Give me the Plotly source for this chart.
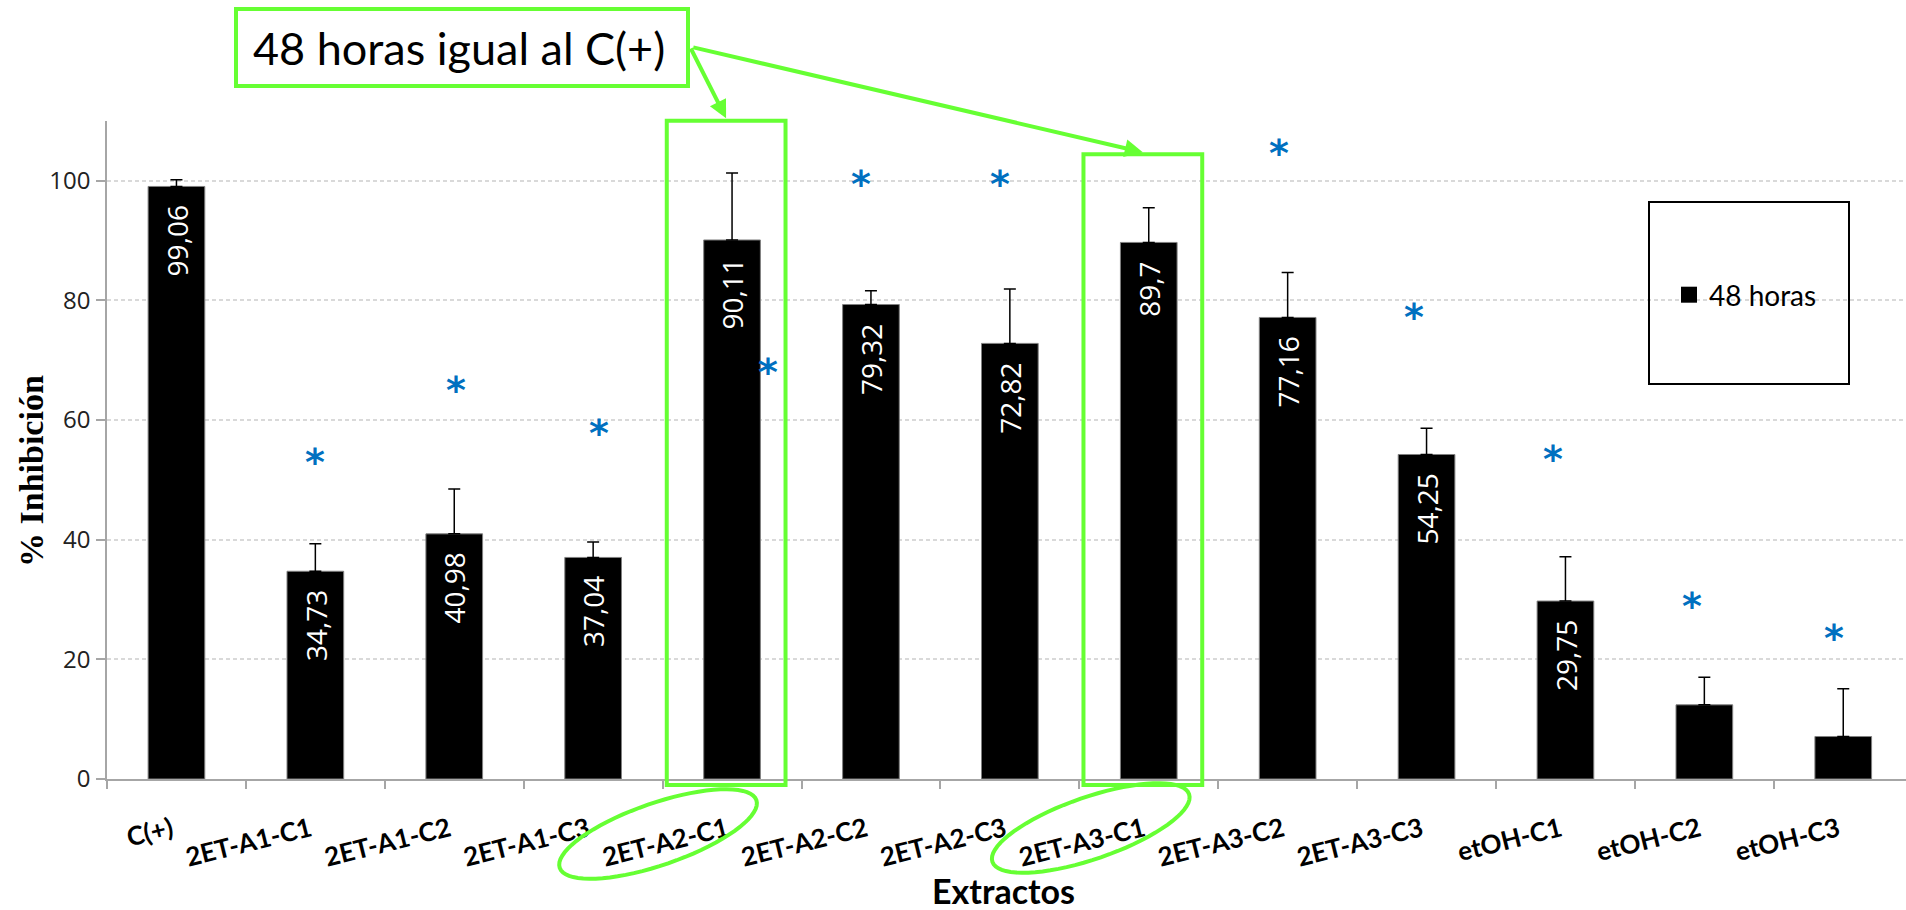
import math
import plotly.graph_objects as go

# ---------------- data ----------------
categories = ["C(+)", "2ET-A1-C1", "2ET-A1-C2", "2ET-A1-C3", "2ET-A2-C1", "2ET-A2-C2",
              "2ET-A2-C3", "2ET-A3-C1", "2ET-A3-C2", "2ET-A3-C3", "etOH-C1", "etOH-C2", "etOH-C3"]
inhibition = [99.06, 34.73, 40.98, 37.04, 90.11, 79.32, 72.82, 89.7, 77.16, 54.25, 29.75, 12.4, 7.1]
error_plus = [1.1, 4.6, 7.5, 2.6, 11.2, 2.3, 9.1, 5.8, 7.5, 4.4, 7.4, 4.6, 8.0]
value_labels = ["99,06", "34,73", "40,98", "37,04", "90,11", "79,32", "72,82", "89,7",
                "77,16", "54,25", "29,75", "", ""]
# significance asterisks (height in % units)
star_heights = [None, 53.8, 65.8, 58.7, 68.9, 100.3, 100.3, None, 105.5, 78.0, 54.3, 29.7, 24.4]
highlighted = ["2ET-A2-C1", "2ET-A3-C1"]
callout_text = "48 horas igual al C(+)"
series_name = "48 horas"
y_ticks = [0, 20, 40, 60, 80, 100]

# ---------------- styling / layout ----------------
GREEN = "#66FF33"
BLUE = "#0070C0"
AXIS = "#A6A6A6"

W, H = 1906, 910
L, R, T, B = 107, 0, 121, 131
PW, PH = W - L - R, H - T - B
CATW = 138.9
XMAX = -0.5 + PW / CATW

star_dx = [0, 0.0, 0.01, 0.04, 0.26, -0.07, -0.07, 0, -0.06, -0.09, -0.09, -0.09, -0.07]


def px_x(px):
    return (px - L) / PW


def px_y(py):
    return (H - B - py) / PH


def cat_px(idx):
    return L + (idx + 0.5) * CATW


fig = go.Figure()
fig.add_trace(go.Bar(
    x=categories, y=inhibition, width=0.408,
    marker=dict(color="black", line=dict(color="#808080", width=1)),
    error_y=dict(type="data", symmetric=False, array=error_plus,
                 arrayminus=[0] * len(error_plus), color="black", thickness=1.5, width=6),
    showlegend=False, hoverinfo="skip",
))
fig.add_trace(go.Scatter(
    x=[None], y=[None], mode="markers", name=series_name,
    marker=dict(symbol="square", size=19, color="black"), showlegend=True,
))

annotations = []
# value labels inside bars
for i, (v, lab) in enumerate(zip(inhibition, value_labels)):
    if lab:
        annotations.append(dict(x=i, y=v, xref="x", yref="y", text=lab, showarrow=False,
                                textangle=-90, yanchor="top", xanchor="center", yshift=-17,
                                font=dict(family="Open Sans", size=28, color="white")))
# asterisks
for i, (s, o) in enumerate(zip(star_heights, star_dx)):
    if s is not None:
        annotations.append(dict(x=i + o, y=s, xref="x", yref="y", text="*", showarrow=False,
                                xanchor="center", yanchor="middle", yshift=-5,
                                font=dict(family="DejaVu Sans", size=38, color=BLUE, weight="bold")))

shapes = []
box_tops = [120.7, 154.3]
for name, top in zip(highlighted, box_tops):
    idx = categories.index(name)
    shapes.append(dict(type="rect", xref="x", yref="paper", x0=idx - 0.47, x1=idx + 0.385,
                       y0=px_y(785), y1=px_y(top), line=dict(color=GREEN, width=4)))

# tilted ellipses around the highlighted tick labels
ell_dx = [-74, -58]
ell_cy = [834, 828]
a_ax, b_ax, rot = 104.0, 31.0, math.radians(19)
for name, dx, cy in zip(highlighted, ell_dx, ell_cy):
    idx = categories.index(name)
    cx = cat_px(idx) + dx
    pts = []
    for k in range(73):
        t = 2 * math.pi * k / 72
        ex = a_ax * math.cos(t)
        ey = b_ax * math.sin(t)
        X = cx + ex * math.cos(rot) + ey * math.sin(rot)
        Y = cy - ex * math.sin(rot) + ey * math.cos(rot)
        pts.append((px_x(X), px_y(Y)))
    path = "M " + " L ".join(f"{x:.5f},{y:.5f}" for x, y in pts) + " Z"
    shapes.append(dict(type="path", xref="paper", yref="paper", path=path,
                       line=dict(color=GREEN, width=4)))

# callout box + text
shapes.append(dict(type="rect", xref="paper", yref="paper", x0=px_x(236), x1=px_x(688),
                   y0=px_y(86), y1=px_y(9), line=dict(color=GREEN, width=4),
                   fillcolor="white"))
annotations.append(dict(x=px_x(459), y=px_y(47.5), xref="paper", yref="paper",
                        xanchor="center", yanchor="middle",
                        text=callout_text, showarrow=False,
                        font=dict(family="Lato", size=45, color="black")))
# arrows
tips = [(725, 118.3), (1140, 152.3)]
tail = (689, 47)
for name, (tx, ty) in zip(highlighted, tips):
    idx = categories.index(name)
    annotations.append(dict(x=idx - 0.043, y=px_y(ty), xref="x", yref="paper", text="",
                            showarrow=True, arrowhead=2, arrowsize=0.9, arrowwidth=4,
                            arrowcolor=GREEN, ax=tail[0] - tx, ay=tail[1] - ty, standoff=0))

# legend box
shapes.append(dict(type="rect", xref="paper", yref="paper", x0=px_x(1649), x1=px_x(1849),
                   y0=px_y(384), y1=px_y(202), line=dict(color="black", width=2)))

# axis titles
annotations.append(dict(x=px_x(31), y=px_y(471), xref="paper", yref="paper",
                        xanchor="center", yanchor="middle",
                        text="% Inhibición", textangle=-90, showarrow=False,
                        font=dict(family="Liberation Serif", size=34, color="black", weight="bold")))
annotations.append(dict(x=px_x(1003), y=px_y(890), xref="paper", yref="paper",
                        xanchor="center", yanchor="middle",
                        text="Extractos", showarrow=False,
                        font=dict(family="Lato", size=34, color="black", weight="bold")))

fig.update_layout(
    width=W, height=H, autosize=False,
    margin=dict(l=L, r=R, t=T, b=B, pad=0),
    paper_bgcolor="white", plot_bgcolor="white",
    xaxis=dict(type="category", range=[-0.5, XMAX], tickson="boundaries",
               ticks="outside", ticklen=8, tickwidth=1.5, tickcolor=AXIS,
               showline=True, linecolor=AXIS, linewidth=1.5, showgrid=False,
               tickangle=-14, ticklabelshift=-5, ticklabelstandoff=24,
               tickfont=dict(family="Lato", size=26, color="black", weight="bold")),
    xaxis2=dict(overlaying="x", anchor="y", range=[-0.5, XMAX], type="linear",
                tickmode="array", tickvals=[k - 0.5 for k in range(14)],
                ticks="inside", ticklen=10, tickwidth=1.5, tickcolor=AXIS,
                showticklabels=False, showgrid=False, showline=False, zeroline=False),
    yaxis=dict(range=[0, 110], tickmode="array", tickvals=y_ticks,
               ticks="outside", ticklen=9, tickwidth=1.5, tickcolor=AXIS,
               showline=True, linecolor=AXIS, linewidth=1.5,
               showgrid=True, gridcolor="#D9D9D9", gridwidth=1.5, griddash="4px,3px",
               zeroline=False, ticklabelstandoff=1,
               tickfont=dict(family="Open Sans", size=24, color="#222222")),
    legend=dict(x=px_x(1669), y=px_y(295), xanchor="left", yanchor="middle",
                bgcolor="rgba(0,0,0,0)", borderwidth=0,
                font=dict(family="Lato", size=28, color="black")),
    shapes=shapes, annotations=annotations,
)

fig.write_html("out.html", config={"displayModeBar": False},
               post_script="document.body.style.margin='0';document.body.style.overflow='hidden';")
